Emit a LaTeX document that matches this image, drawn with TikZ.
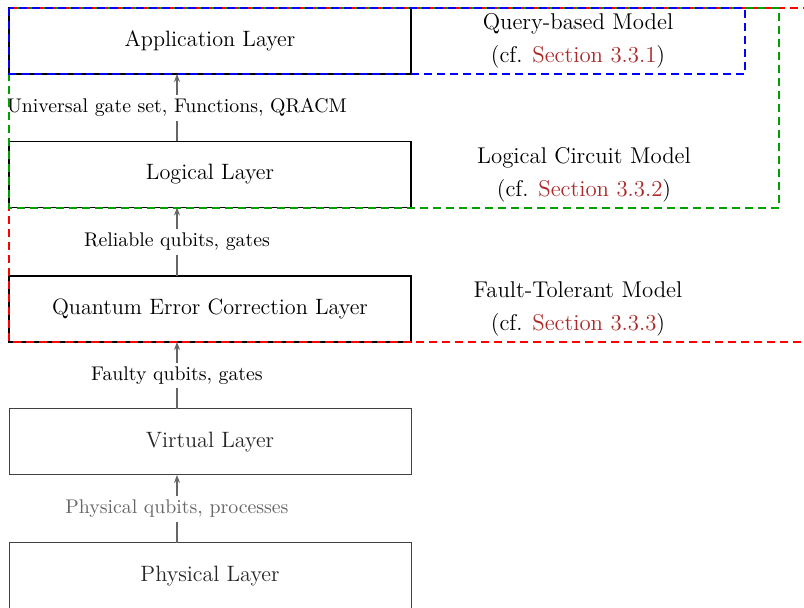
\documentclass[tikz,border=0pt]{standalone}
\usetikzlibrary{arrows.meta}
\definecolor{linkred}{RGB}{170,40,40}
\definecolor{dgreen}{RGB}{0,160,0}
\tikzset{
  layer/.style={draw=black, line width=0.65pt, minimum width=201pt, minimum height=33pt, inner sep=0pt, outer sep=0pt, font=\fontsize{11.1}{13}\selectfont},
  glayer/.style={layer, draw=black!75, line width=0.5pt, text=black!85},
  arr/.style={draw=black!60, line width=0.6pt, -{Stealth[length=4pt,width=3pt]}},
  lbl/.style={fill=white, inner sep=2pt, font=\fontsize{9.9}{12}\selectfont, text=black},
  glbl/.style={lbl, text=black!60},
  model/.style={align=center, font=\fontsize{11.4}{16.5}\selectfont},
  region/.style={line width=0.65pt, dash pattern=on 4pt off 2.5pt},
}
\newcommand{\sref}[1]{\textcolor{linkred}{Section #1}}
\begin{document}
\begin{tikzpicture}[x=0.5pt,y=-0.5pt]
\clip (0,0) rectangle (804,608);
\fill[white] (0,0) rectangle (804,608);
\coordinate (ax) at (177,0);
\node[layer] (app) at (210,41) {Application Layer};
\node[layer] (log) at (210,174.5) {Logical Layer};
\node[layer] (qec) at (210,309) {Quantum Error Correction Layer};
\node[glayer] (vir) at (210,442) {Virtual Layer};
\node[glayer] (phy) at (210,576) {Physical Layer};

\draw[arr] (log.north -| ax) -- node[lbl]{Universal gate set, Functions, QRACM} (app.south -| ax);
\draw[arr] (qec.north -| ax) -- node[lbl]{Reliable qubits, gates} (log.south -| ax);
\draw[arr] (vir.north -| ax) -- node[lbl]{Faulty qubits, gates} (qec.south -| ax);
\draw[arr] (phy.north -| ax) -- node[glbl]{Physical qubits, processes} (vir.south -| ax);

\draw[region, red] (9,8) rectangle (830,342);
\draw[region, dgreen] (9,8) rectangle (779,208);
\draw[region, blue] (9,8) rectangle (745,74);

\node[model] (m1) at (578,41) {Query-based Model\\(cf. \sref{3.3.1})};
\node[model] (m2) at (584,175) {Logical Circuit Model\\(cf. \sref{3.3.2})};
\node[model] (m3) at (578,309) {Fault-Tolerant Model\\(cf. \sref{3.3.3})};
\end{tikzpicture}
\end{document}
